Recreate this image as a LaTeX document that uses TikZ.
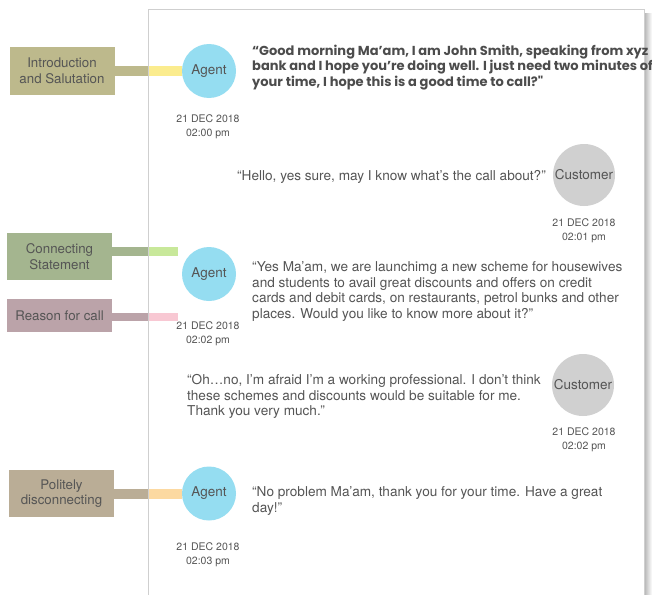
\documentclass[tikz,border=0pt]{standalone}
\usepackage{fontspec}
\setmainfont{TeX Gyre Heros}
\newfontfamily\quotefont{Poppins}
\usetikzlibrary{positioning}

\definecolor{txtgrey}{HTML}{555555}
\definecolor{pageline}{HTML}{CFCFCF}
\definecolor{agentblue}{HTML}{95DDF1}
\definecolor{custgrey}{HTML}{D0D0D0}
\definecolor{introdark}{HTML}{BDB98C}
\definecolor{introlight}{HTML}{FBEC8E}
\definecolor{connectdark}{HTML}{A4B58F}
\definecolor{connectlight}{HTML}{C8E89A}
\definecolor{reasondark}{HTML}{BBA3A9}
\definecolor{reasonlight}{HTML}{F8C8D3}
\definecolor{politedark}{HTML}{BAAD96}
\definecolor{politelight}{HTML}{FCD9A1}

\tikzset{
    lbl/.style={rectangle, minimum width=105pt, minimum height=47pt, inner sep=0pt,
        align=center, text=txtgrey, font=\fontsize{13.3}{15.5}\selectfont},
    agent/.style={circle, fill=agentblue, minimum size=54pt, inner sep=0pt,
        text=txtgrey, font=\fontsize{13.5}{15}\selectfont},
    customer/.style={circle, fill=custgrey, minimum size=62pt, inner sep=0pt,
        text=txtgrey, font=\fontsize{13.5}{15}\selectfont},
    speech/.style={align=left, inner sep=0pt, text=txtgrey, font=\fontsize{13.6}{15.5}\selectfont},
    boldspeech/.style={align=left, inner sep=0pt, text=txtgrey!90!black,
        font=\quotefont\bfseries\fontsize{13}{15.5}\selectfont},
    stamp/.style={align=center, inner sep=0pt, text=txtgrey, font=\fontsize{10.5}{14}\selectfont},
    band/.style={line width=#1},
    band/.default=10pt
}

\begin{document}
\begin{tikzpicture}[x=1pt, y=-1pt]
        \useasboundingbox (0,0) rectangle (652,594);
        % page
        \fill[white] (148,9) rectangle (644,600);
        \shade[left color=black!30, right color=white] (644,14) rectangle (652,594);
        \coordinate (pageL) at (148,9);

        % labels on the left
        \node[lbl, fill=introdark] (intro) at (62,71) {Introduction\\and Salutation};
        \node[lbl, fill=connectdark] (connect) at (59.5,256.5) {Connecting\\Statement};
        \node[lbl, fill=reasondark, minimum height=33pt] (reason) at (59.5,315.5) {Reason for call};
        \node[lbl, fill=politedark] (polite) at (61.5,493.5) {Politely\\disconnecting};

        % speakers
        \node[agent] (agent1) at (209,71) {Agent};
        \node[customer] (cust1) at (584,175) {Customer};
        \node[agent] (agent2) at (209,274) {Agent};
        \node[customer] (cust2) at (583,385) {Customer};
        \node[agent] (agent3) at (209,493.5) {Agent};

        % bands
        \coordinate (tip2) at (178,251.5);
        \coordinate (tip3) at (178,317);
        \draw[band, introdark] (intro.east) -- (intro.east -| pageL);
        \draw[band, introlight] (intro.east -| pageL) -- (agent1.west);
        \draw[band=9pt, connectdark] (connect.east |- tip2) -- (tip2 -| pageL);
        \draw[band=9pt, connectlight] (tip2 -| pageL) -- (tip2);
        \draw[band=8pt, reasondark] (reason.east |- tip3) -- (tip3 -| pageL);
        \draw[band=8pt, reasonlight] (tip3 -| pageL) -- (tip3);
        \draw[band, politedark] (polite.east) -- (polite.east -| pageL);
        \draw[band, politelight] (polite.east -| pageL) -- (agent3.west);

        \draw[pageline] (148,600) -- (pageL) -- (644,9) -- (644,600);

        % what is said (anchored on the last line)
        \node[boldspeech, anchor=base west] (say1) at (252,86)
            {“Good morning Ma’am, I am John Smith, speaking from xyz\\
             bank and I hope you’re doing well. I just need two minutes of\\
             your time, I hope this is a good time to call?"};
        \node[speech, anchor=base east] (say2) at (546,180.5)
            {“Hello, yes sure, may I know what’s the call about?"};
        \node[speech, anchor=base west] (say3) at (252,318)
            {“Yes Ma’am, we are launchimg a new scheme for housewives\\
             and students to avail great discounts and offers on credit\\
             cards and debit cards, on restaurants, petrol bunks and other\\
             places. Would you like to know more about it?"};
        \node[speech, anchor=base west] (say4) at (187,415.5)
            {“Oh…no, I’m afraid I’m a working professional. I don’t think\\
             these schemes and discounts would be suitable for me.\\
             Thank you very much.”};
        \node[speech, anchor=base west] (say5) at (252,512)
            {“No problem Ma’am, thank you for your time. Have a great\\
             day!”};

        % time stamps
        \node[stamp] (time1) at (208,127) {21 DEC 2018\\02:00 pm};
        \node[stamp] (time2) at (584,230.5) {21 DEC 2018\\02:01 pm};
        \node[stamp] (time3) at (208,334) {21 DEC 2018\\02:02 pm};
        \node[stamp] (time4) at (584,439.5) {21 DEC 2018\\02:02 pm};
        \node[stamp] (time5) at (208,555) {21 DEC 2018\\02:03 pm};
    \end{tikzpicture}
\end{document}
